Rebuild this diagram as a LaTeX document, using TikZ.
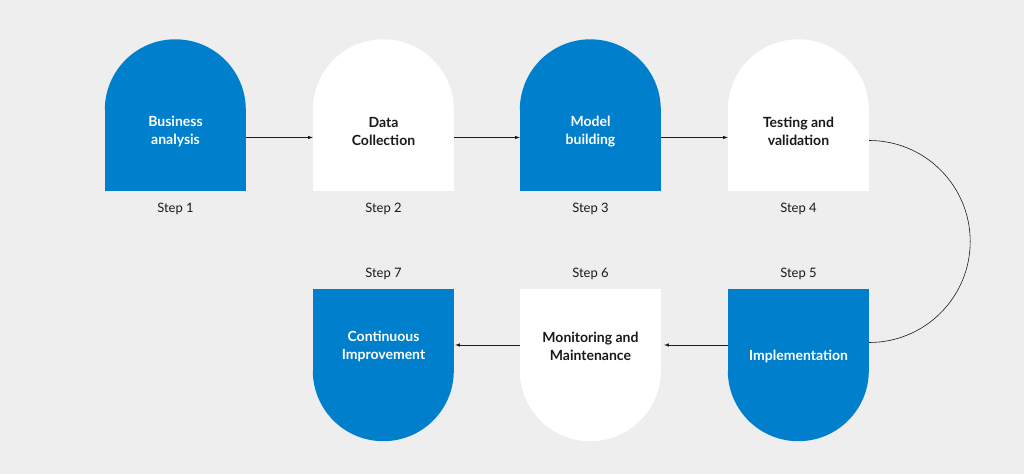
\documentclass[tikz,border=0pt]{standalone}
\usepackage{fontspec}
\setmainfont{Lato}
\usepackage{xcolor}
\definecolor{stepblue}{HTML}{0080CC}
\definecolor{bgrey}{HTML}{EEEEEE}
\definecolor{ink}{HTML}{1A1A1A}
\begin{document}
\begin{tikzpicture}[
      x=1pt, y=1pt, >=latex,
      blk/.style={rectangle,minimum width=141pt,minimum height=81pt,inner sep=0pt},
      lbl/.style={font=\fontsize{14}{18}\selectfont\bfseries,align=center,text=ink},
      wlbl/.style={lbl,text=white},
      stp/.style={font=\fontsize{13}{15}\selectfont,text=ink},
      con/.style={->,line width=0.6pt,color=ink}
  ]
      \fill[bgrey] (0,0) rectangle (1024,474);

      % top row
      \node[blk,fill=stepblue] (b1) at (175.5,323.5) {};
      \node[blk,fill=white]    (b2) at (383.5,323.5) {};
      \node[blk,fill=stepblue] (b3) at (590.5,323.5) {};
      \node[blk,fill=white]    (b4) at (798.5,323.5) {};
      \fill[stepblue] (b1.north west) arc(180:0:70.5);
      \fill[white]    (b2.north west) arc(180:0:70.5);
      \fill[stepblue] (b3.north west) arc(180:0:70.5);
      \fill[white]    (b4.north west) arc(180:0:70.5);

      % bottom row
      \node[blk,fill=stepblue] (b5) at (798.5,144) {};
      \node[blk,fill=white]    (b6) at (590.5,144) {};
      \node[blk,fill=stepblue] (b7) at (383.5,144) {};
      \fill[stepblue] (b5.south west) arc(180:360:70.5);
      \fill[white]    (b6.south west) arc(180:360:70.5);
      \fill[stepblue] (b7.south west) arc(180:360:70.5);

      % texts
      \node[wlbl] (t1) at ([yshift=19pt]b1.center) {Business\\analysis};
      \node[lbl]  (t2) at ([yshift=19pt]b2.center) {Data\\Collection};
      \node[wlbl] (t3) at ([yshift=19pt]b3.center) {Model\\building};
      \node[lbl]  (t4) at ([yshift=19pt]b4.center) {Testing and\\validation};
      \node[wlbl] (t5) at ([yshift=-26pt]b5.center) {Implementation};
      \node[lbl]  (t6) at ([yshift=-16pt]b6.center) {Monitoring and\\Maintenance};
      \node[wlbl] (t7) at ([yshift=-16pt]b7.center) {Continuous\\Improvement};

      \node[stp] (s1) at (175.5,265) {Step 1};
      \node[stp] (s2) at (383.5,265) {Step 2};
      \node[stp] (s3) at (590.5,265) {Step 3};
      \node[stp] (s4) at (798.5,265) {Step 4};
      \node[stp] (s5) at (798.5,200) {Step 5};
      \node[stp] (s6) at (590.5,200) {Step 6};
      \node[stp] (s7) at (383.5,200) {Step 7};

      % connectors
      \draw[con] ([yshift=13pt]b1.east) -- ([yshift=13pt]b2.west);
      \draw[con] ([yshift=13pt]b2.east) -- ([yshift=13pt]b3.west);
      \draw[con] ([yshift=13pt]b3.east) -- ([yshift=13pt]b4.west);
      \draw[line width=0.6pt,ink] ([yshift=10pt]b4.east) arc(90:-90:101);
      \draw[con] ([yshift=-15pt]b5.west) -- ([xshift=3pt,yshift=-15pt]b6.east);
      \draw[con] ([yshift=-15pt]b6.west) -- ([xshift=1pt,yshift=-15pt]b7.east);
  \end{tikzpicture}
\end{document}
